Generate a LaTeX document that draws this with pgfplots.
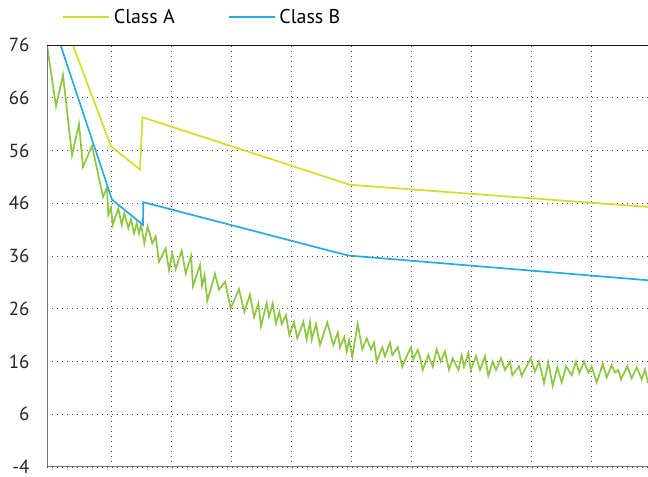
\documentclass[border=0pt]{standalone}
\usepackage{pgfplots}
\pgfplotsset{compat=1.18}
\usepackage{fontspec}
\setmainfont{PT Sans}

\definecolor{clsA}{RGB}{208,222,42}
\definecolor{clsB}{RGB}{38,170,226}
\definecolor{noisy}{RGB}{141,198,63}

\begin{document}
\begin{tikzpicture}
\useasboundingbox (0,0) rectangle (648bp,477bp);
\begin{axis}[
  at={(47bp,10bp)}, anchor=south west,
  scale only axis,
  width=601bp, height=422bp,
  xmin=0, xmax=601,
  ymin=-4, ymax=76,
  xtick={64,124,...,544},
  xticklabels={},
  ytick={-4,6,16,26,36,46,56,66,76},
  yticklabels={-4,6,16,26,36,46,56,66,76},
  major tick length=0pt,
  grid=major,
  major grid style={black!75, line width=1bp, dash pattern=on 1bp off 4bp},
  axis line style={draw=none},
  yticklabel style={font=\fontsize{19}{19}\selectfont, text=black!85,
    xshift=-14bp, inner ysep=0bp},
  legend columns=2,
  legend style={draw=none, fill=none, inner sep=0pt,
    at={(0.025,1.066)}, anchor=west,
    font=\fontsize{20}{20}\selectfont,
    /tikz/every odd column/.append style={column sep=2bp},
    /tikz/every even column/.append style={column sep=51bp}},
  legend image code/.code={\draw[#1] (0bp,0bp) -- (46bp,0bp);},
]
\addplot[noisy, line width=1.7bp, forget plot] coordinates {
(0,76.0) (9,64.4) (16,70.3) (25,55.1) (32,61.0) (36,52.9) (45,56.9)
(56,47.2) (60,49.0) (61.3,43.8) (64,45.2) (65.7,41.9) (71.3,45.0)
(74.7,41.9) (77.3,44.1) (81.3,41.3) (84,43.0) (87,40.3) (89.7,42.2)
(92,40.3) (94,42.0) (97.3,38.4) (100.7,41.6) (105.3,38.4) (108.7,39.7)
(112,34.9) (118.7,37.5) (122,33.3) (125.3,36.5) (128.7,33.5) (134.7,37.0)
(138.7,32.7) (144,36.0) (146,30.3) (153,34.3) (155,30.3) (157.5,32.4)
(160.3,27.5) (168,32.6) (172,29.6) (178,31.1) (183.7,26.1) (192,29.7)
(197.3,25.4) (203,28.7) (207,24.4) (211.3,27.0) (214,22.7) (219.7,27.1)
(222,24.5) (225.7,27.0) (229,23.2) (232.3,25.4) (234.7,23.1) (239,24.8)
(242.3,21.0) (247,23.5) (250.3,20.4) (256.3,23.5) (259.7,20.2) (263,23.5)
(264.7,20.1) (269,23.1) (273,19.1) (280.3,23.4) (286.3,19.1) (290.7,21.5)
(293,18.7) (297.3,20.6) (299.7,17.9) (302,20.1) (305.3,17.0) (310.7,23.1)
(315.3,18.3) (319.7,20.4) (324,18.3) (327,19.6) (329.7,16.0) (335.3,18.7)
(338,17.0) (343,19.6) (345.3,17.2) (350.7,18.7) (355.3,15.0) (359.7,17.0)
(364,18.7) (366.3,16.4) (370.7,18.2) (373,16.9) (375.7,14.4) (381.3,17.2)
(385.7,15.0) (389.7,18.3) (393.7,16.0) (398,17.9) (402,14.4) (405.7,16.6)
(411.3,14.4) (414.7,17.2) (417,15.0) (421.3,17.6) (423.7,14.4) (429,17.0)
(433,14.4) (438,17.0) (441.3,13.3) (445.7,16.0) (449,14.4) (454,16.6)
(458,14.4) (463,16.0) (465.3,13.4) (472,15.1) (474.7,13.3) (483.7,16.6)
(488,14.1) (492,16.0) (497,11.9) (501.3,15.8) (505.7,11.4) (510.3,14.9)
(514.7,12.0) (519,15.1) (524.7,13.4) (529,16.0) (532.3,13.8) (537,16.0)
(541.3,13.9) (544.7,15.0) (549.7,12.0) (555.7,15.5) (559.7,13.0) (564.7,15.3)
(568,13.9) (571.3,14.4) (574,12.6) (580.3,15.1) (584.7,12.8) (589.7,14.9)
(594.7,12.6) (598,14.5) (601,11.9)
};
\addplot[clsA, line width=1.7bp] coordinates {
(0,89.0) (64,56.8) (93,52.4) (95.5,62.3) (303,49.5) (601,45.3)
};
\addlegendentry{Class A}
\addplot[clsB, line width=1.7bp] coordinates {
(0,83.7) (65,46.7) (96,41.9) (96.3,46.2) (301,36.1) (601,31.4)
};
\addlegendentry{Class B}
\draw[black!55, line width=1.6bp] (rel axis cs:0,0) -- (rel axis cs:0,1);
\draw[black!55, line width=1.6bp] (rel axis cs:0,0) -- (rel axis cs:1,0);
\draw[black!90, line width=1.2bp] (rel axis cs:0,1) -- (rel axis cs:1,1);
\end{axis}
\end{tikzpicture}
\end{document}
